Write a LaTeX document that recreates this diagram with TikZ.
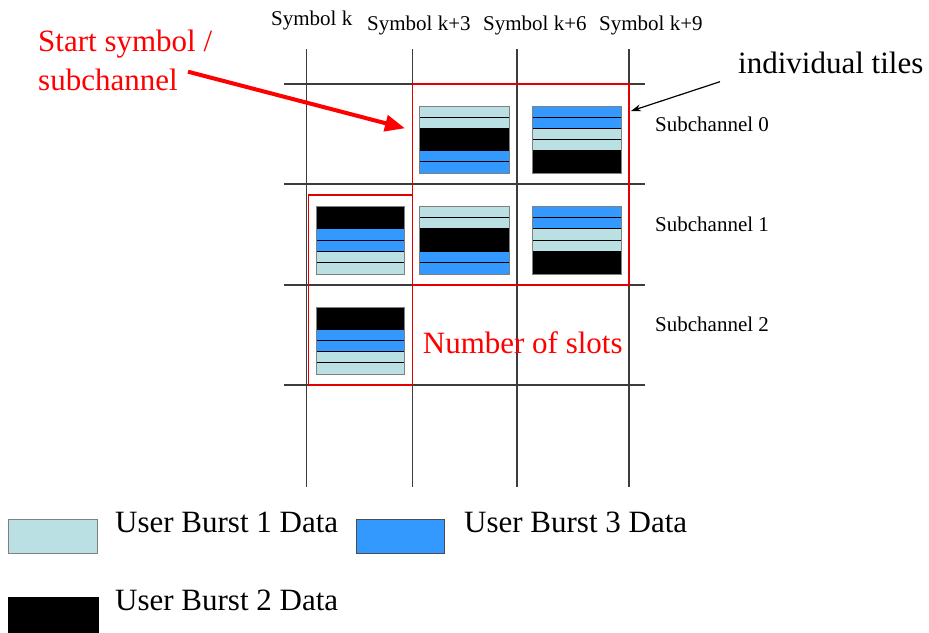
\documentclass[tikz,border=0pt]{standalone}
\usepackage{fontspec}
\setmainfont{Liberation Serif}
\usetikzlibrary{arrows.meta}
\definecolor{lt}{RGB}{187,224,227}
\definecolor{bl}{RGB}{51,153,255}
\definecolor{bk}{RGB}{0,0,0}
\definecolor{gridc}{RGB}{60,60,60}
\definecolor{rd}{RGB}{255,0,0}
\def\patA{lt/0/1,lt/1/2,bk/2/4,bl/4/5,bl/5/6}
\def\patB{bl/0/1,bl/1/2,lt/2/3,lt/3/4,bk/4/6}
\def\patC{bk/0/2,bl/2/3,bl/3/4,lt/4/5,lt/5/6}
\newcommand{\tiledraw}[5]{%
  \foreach \c/\a/\b in #5 {
    \filldraw[fill=\c, draw=black, line width=0.9pt] (#1,{#3+(#4-#3)*\a/6}) rectangle (#2,{#3+(#4-#3)*\b/6});
  }
  \draw[gray, line width=1pt] (#1,#3) rectangle (#2,#4);
}
\tikzset{
  lbl/.style={anchor=base west, inner sep=0pt, font=\fontsize{21}{25}\selectfont},
  big/.style={anchor=base west, inner sep=0pt, font=\fontsize{31}{37}\selectfont},
  leg/.style={anchor=base west, inner sep=0pt, font=\fontsize{31}{37}\selectfont},
  gridline/.style={draw=gridc, line width=1.3pt},
  redbox/.style={draw=rd!90!black, line width=1.3pt},
}
\begin{document}
\begin{tikzpicture}[x=1pt,y=-1pt]
\useasboundingbox (0,0) rectangle (929,632);
% grid
\foreach \yy in {84,184,285,385} \draw[gridline] (284,\yy) -- (645,\yy);
\foreach \xx in {306.5,412.5,517,629} \draw[gridline] (\xx,49) -- (\xx,487);
% red boxes
\draw[redbox] (412.5,84) rectangle (629,285);
\draw[redbox] (308.5,195) rectangle (412.5,385);
% tiles
\tiledraw{419}{509}{106}{173}{\patA}
\tiledraw{532}{621}{106}{173}{\patB}
\tiledraw{316}{404}{206}{274}{\patC}
\tiledraw{419}{509}{206}{274}{\patA}
\tiledraw{532}{621}{206}{274}{\patB}
\tiledraw{316}{404}{307}{374}{\patC}
% column labels
\node[lbl] (s0) at (271,25) {Symbol k};
\node[lbl] (s3) at (367,30.7) {Symbol k+3};
\node[lbl] (s6) at (483,30.7) {Symbol k+6};
\node[lbl] (s9) at (599,30.7) {Symbol k+9};
% row labels
\node[lbl] (c0) at (655,131.7) {Subchannel 0};
\node[lbl] (c1) at (655,231.7) {Subchannel 1};
\node[lbl] (c2) at (655,331.7) {Subchannel 2};
% annotations
\node[big, text=rd] (st1) at (38,51.7) {Start symbol /};
\node[big, text=rd] (st2) at (38,90) {subchannel};
\node[big] (ind) at (738,73.3) {individual tiles};
\node[big, text=rd] (nos) at (422.7,353.3) {Number of slots};
\coordinate (redfrom) at (188,71.7);
\coordinate (redto) at (405,128.3);
\draw[rd, line width=4pt, -{Triangle[length=20pt,width=16pt]}] (redfrom) -- (redto);
\coordinate (blkfrom) at (720,81.7);
\coordinate (blkto) at (631,111);
\draw[black, line width=1.2pt, -{Stealth[length=10pt,width=7pt]}] (blkfrom) -- (blkto);
% legend
\filldraw[fill=lt, draw=gray, line width=1pt] (8.3,519.3) rectangle (97.7,553.3);
\filldraw[fill=bl, draw=gray!60!black, line width=1pt] (356,519.3) rectangle (444.3,553.3);
\filldraw[fill=black, draw=black] (8.3,597.3) rectangle (97.7,632);
\node[leg] (l1) at (115,532.3) {User Burst 1 Data};
\node[leg] (l3) at (464,532.3) {User Burst 3 Data};
\node[leg] (l2) at (115,610) {User Burst 2 Data};
\end{tikzpicture}
\end{document}
